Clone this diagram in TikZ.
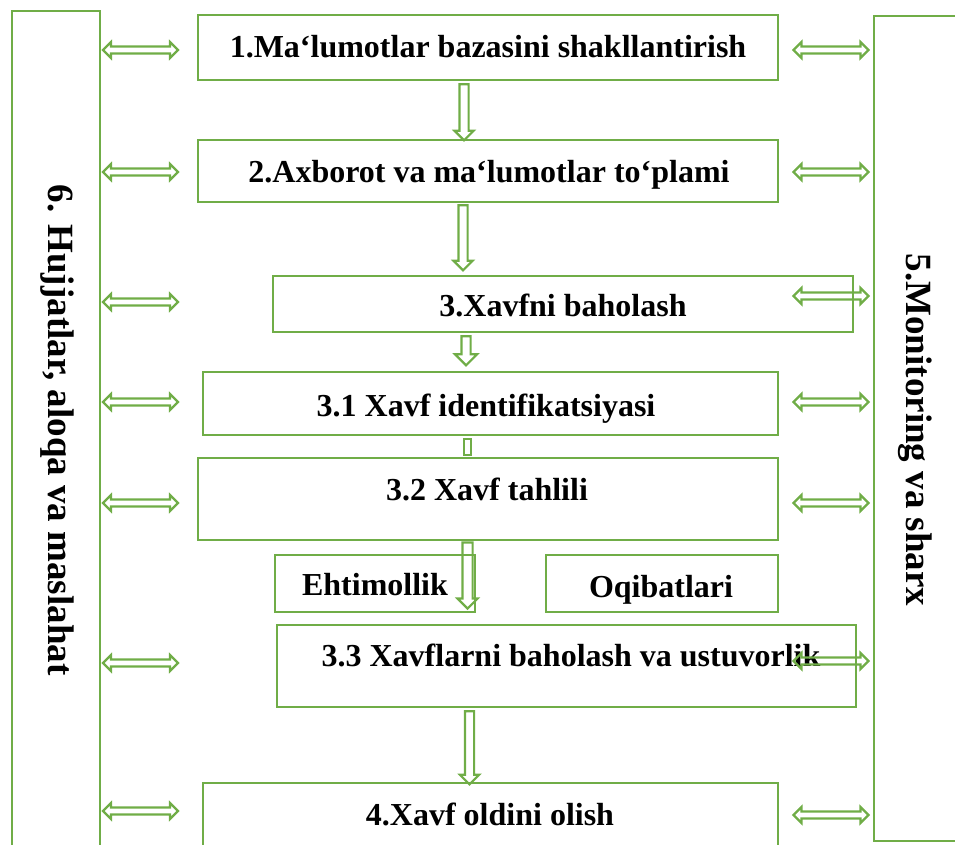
\documentclass[tikz,border=0pt]{standalone}
\usepackage{fontspec}
\setmainfont{Liberation Serif}
\usetikzlibrary{shapes.arrows,calc}
\definecolor{grn}{RGB}{112,173,71}
\begin{document}
\begin{tikzpicture}[x=1pt,y=-1pt,
  box/.style={draw=grn,line width=2.6pt,inner sep=0pt},
  lbl/.style={anchor=base,inner sep=0pt,font=\fontsize{32}{37}\selectfont\bfseries},
  side/.style={rotate=-90,inner sep=0pt,font=\fontsize{37}{42}\selectfont\bfseries},
  harr/.style={double arrow,draw=grn,line width=2.2pt,inner sep=2.4pt,
    double arrow head extend=4.5pt,double arrow tip angle=90,minimum height=75pt},
  varr/.style={single arrow,shape border rotate=270,draw=grn,line width=2.2pt,
    inner sep=3.5pt,single arrow head extend=5pt,single arrow tip angle=90}]
\clip (0,0) rectangle (955,844);
% side boxes
\node[box,minimum width=88pt,minimum height=889pt] (L) at (56,455.5) {};
\node[box,minimum width=126pt,minimum height=825pt] (R) at (937,428.5) {};
\node[side] (tL) at (57,430) {6. Hujjatlar, aloqa va maslahat};
\node[side] (tR) at (915,430) {5.Monitoring va sharx};
% main boxes
\node[box,minimum width=580pt,minimum height=65pt] (b1) at (488,47.5) {};
\node[box,minimum width=580pt,minimum height=62pt] (b2) at (488,171) {};
\node[box,minimum width=580pt,minimum height=56pt] (b3) at (563,304) {};
\node[box,minimum width=575pt,minimum height=63pt] (b31) at (490.5,403.5) {};
\node[box,minimum width=580pt,minimum height=82pt] (b32) at (488,499) {};
\node[box,minimum width=200pt,minimum height=57pt] (be) at (375,583.5) {};
\node[box,minimum width=232pt,minimum height=57pt] (bo) at (662,583.5) {};
\node[box,minimum width=579pt,minimum height=82pt] (b33) at (566.5,666) {};
\node[box,minimum width=575pt,minimum height=97pt] (b4) at (490.5,831.5) {};
% texts
\node[lbl] (t1) at (488,57) {1.Ma‘lumotlar bazasini shakllantirish};
\node[lbl] (t2) at (489,182) {2.Axborot va ma‘lumotlar to‘plami};
\node[lbl] (t3) at (563,316) {3.Xavfni baholash};
\node[lbl] (t31) at (486,416) {3.1 Xavf identifikatsiyasi};
\node[lbl] (t32) at (487,500) {3.2 Xavf tahlili};
\node[lbl] (te) at (375,595) {Ehtimollik};
\node[lbl] (to) at (661,597) {Oqibatlari};
\node[lbl] (t33) at (571,666) {3.3 Xavflarni baholash va ustuvorlik};
\node[lbl] (t4) at (490,825) {4.Xavf oldini olish};
% vertical arrows
\node[varr,minimum height=56pt] (v12) at (464,110) {};
\node[varr,minimum height=65pt] (v23) at (463,235.5) {};
\node[varr,minimum height=29pt,single arrow head extend=6.5pt] (v331) at (466,348.5) {};
\node[draw=grn,line width=2.2pt,minimum width=7pt,minimum height=16pt,inner sep=0pt] (stub) at (467.5,447) {};
\node[varr,minimum height=66pt,inner sep=4pt] (v32) at (467.5,573) {};
\node[varr,minimum height=73pt] (v334) at (469.5,745.5) {};
% horizontal arrows left
\foreach \y/\n in {50/1,172/2,302/3,402/4,503/5,663/6,811/7}
  \node[harr] (hl\n) at (140.5,\y) {};
% horizontal arrows right
\foreach \y/\n in {50/1,172/2,296/3,402/4,503/5,661/6,815/7}
  \node[harr] (hr\n) at (831,\y) {};
\end{tikzpicture}
\end{document}
